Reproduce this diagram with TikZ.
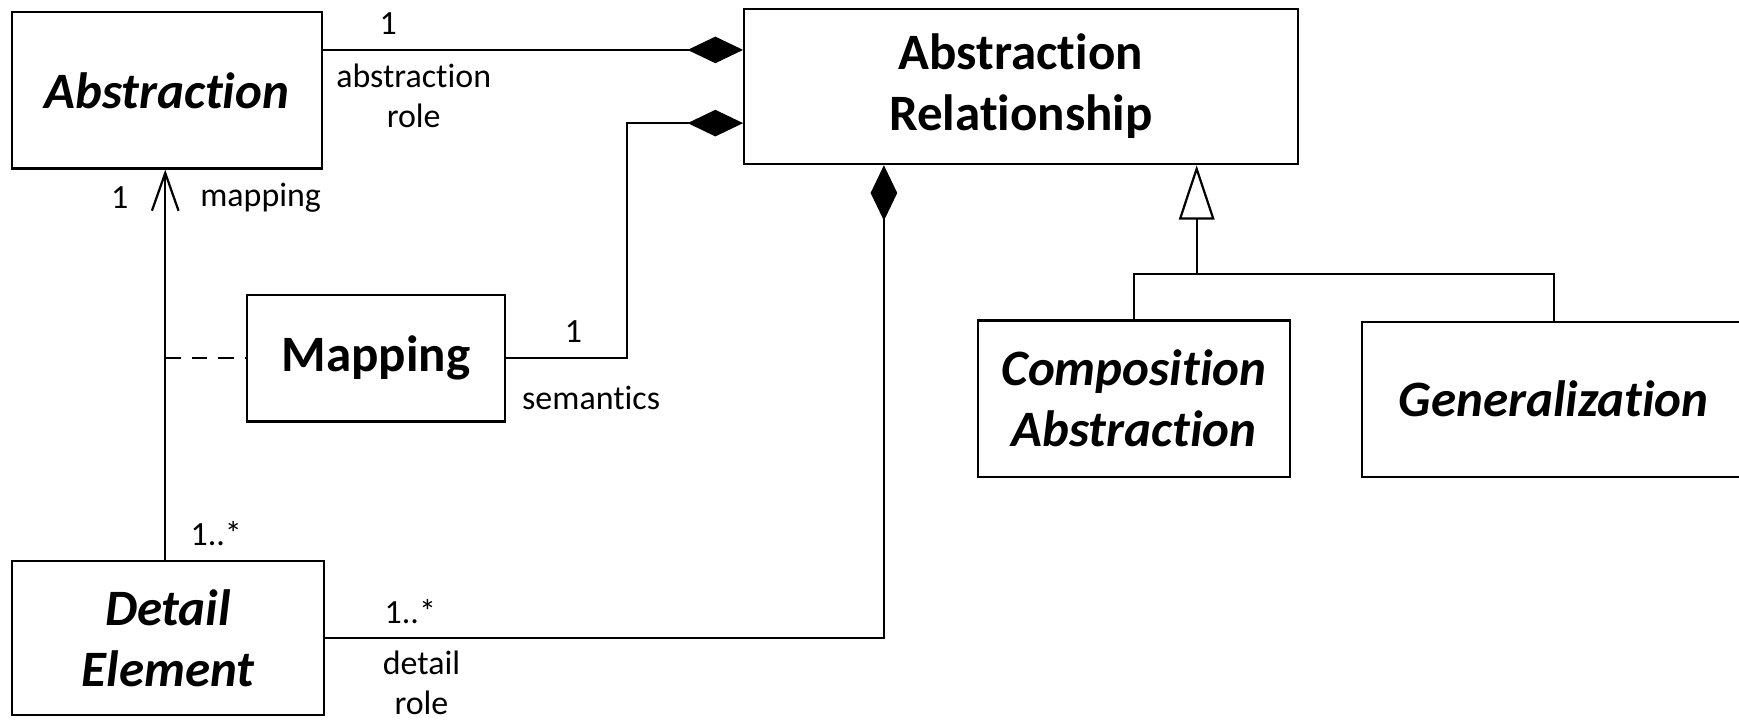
\documentclass[tikz,border=0pt]{standalone}
\usepackage{fontspec}
\setmainfont{Carlito}[RawFeature={-liga;-clig;-dlig;-calt}]
\usetikzlibrary{arrows.meta}
\begin{document}
\begin{tikzpicture}[x=0.5pt,y=-0.5pt,
  every node/.style={inner sep=0pt},
  classbox/.style={draw,line width=1pt,align=center,
    font=\fontsize{23}{27.5}\selectfont\bfseries},
  abstractcls/.style={classbox,font=\fontsize{23}{27.5}\selectfont\bfseries\itshape},
  lbl/.style={align=center,font=\fontsize{15.3}{18}\selectfont},
  link/.style={line width=1pt},
  compo/.style={link,-{Diamond[length=25pt,width=12pt,fill=black]}},
  gener/.style={link,-{Triangle[open,length=24.5pt,width=16pt,fill=white]}},
  navig/.style={link,-{Straight Barb[length=17pt,width=12pt]}},
  assocclass/.style={link,dash pattern=on 7pt off 5pt}]
\useasboundingbox (0,0) rectangle (1568,650);

% classes
\node[abstractcls,minimum width=139.5pt,minimum height=70.5pt] (abs) at (150.5,81.5) {Abstraction};
\node[classbox,minimum width=249.5pt,minimum height=70pt] (ar) at (920.5,78) {Abstraction\\Relationship};
\node[classbox,minimum width=116pt,minimum height=57pt] (map) at (339,323) {Mapping};
\node[abstractcls,minimum width=140.5pt,minimum height=69.5pt] (det) at (151.5,575.5) {Detail\\Element};
\node[abstractcls,minimum width=140.5pt,minimum height=70.5pt] (comp) at (1022.5,359.5) {Composition\\Abstraction};
\node[abstractcls,minimum width=173pt,minimum height=70pt] (gen) at (1401,360) {Generalization};

% routing points
\coordinate (j1) at (0,45);
\coordinate (j2) at (565,111);
\coordinate (j3) at (797,0);
\coordinate (j4) at (1079,247);
\coordinate (j5) at (149,0);

% compositions into Abstraction Relationship
\draw[compo] (abs.east |- j1) -- (ar.west |- j1);
\draw[compo] (map.east) -| (j2) -- (ar.west |- j2);
\draw[compo] (det.east) -| (ar.south -| j3);

% generalization
\draw[gener] (j4) -- (ar.south -| j4);
\draw[link] (comp.north) |- (j4) -| (gen.north);

% mapping association and its association class
\draw[navig] (det.north -| j5) -- (abs.south -| j5);
\draw[assocclass] (map.west -| j5) -- (map.west);

% association end labels
\node[lbl] (m1) at (350,21) {1};
\node[lbl] (r1) at (373,86) {abstraction\\role};
\node[lbl] (m2) at (108,178) {1};
\node[lbl] (r2) at (235,178) {mapping};
\node[lbl] (m3) at (517,299) {1};
\node[lbl] (r3) at (533,359) {semantics};
\node[lbl] (m4) at (195,481) {1..*};
\node[lbl] (m5) at (370,551) {1..*};
\node[lbl] (r5) at (380,616) {detail\\role};
\end{tikzpicture}
\end{document}
